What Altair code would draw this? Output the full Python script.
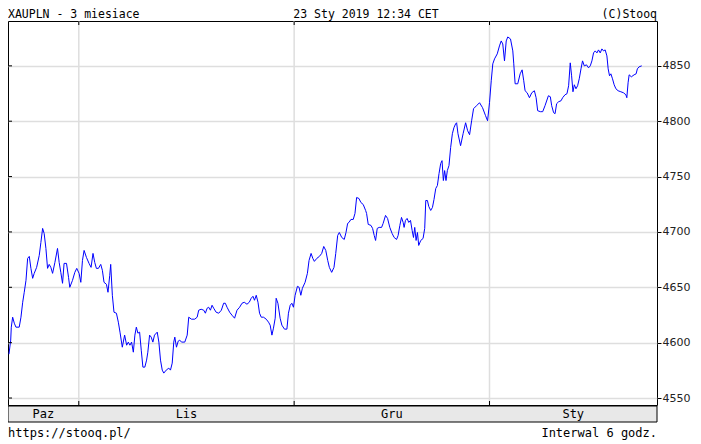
import altair as alt
import pandas as pd

# t = trading days since 23 Oct 2018 (6-hour interval data), price = XAU/PLN
oct_pts = [(0.10,4589.6),(0.28,4602.3),(0.34,4614.0),(0.48,4623.0),(0.65,4617.6),(0.82,4614.0),(1.16,4614.0),(1.34,4623.0),(1.52,4636.5),(1.68,4645.5),(1.86,4656.3),(2.03,4676.1),(2.20,4677.9),(2.37,4667.1),(2.55,4658.1),(2.71,4662.6),(2.96,4668.0),(3.23,4678.8),(3.40,4690.5),(3.58,4703.2),(3.74,4698.6),(3.92,4685.1),(4.09,4667.1),(4.26,4670.7),(4.43,4668.0),(4.61,4662.6),(4.85,4672.5),(5.12,4685.1),(5.29,4672.5),(5.46,4663.5),(5.64,4653.6),(5.80,4671.6),(6.05,4671.6),(6.26,4659.0),(6.39,4650.0),(6.67,4656.3),(6.91,4663.5),(7.11,4667.1)]

nov_pts = [(7.35,4662.6),(7.53,4654.5),(7.70,4674.3),(7.87,4683.3),(8.11,4677.0),(8.38,4671.6),(8.59,4668.0),(8.79,4680.6),(8.97,4672.5),(9.14,4667.1),(9.35,4667.1),(9.59,4670.7),(9.76,4665.3),(9.93,4654.5),(10.18,4652.7),(10.34,4645.5),(10.52,4660.8),(10.62,4670.7),(10.79,4642.8),(10.96,4627.5),(11.21,4626.6),(11.41,4618.5),(11.58,4609.5),(11.82,4595.9),(12.06,4606.8),(12.27,4597.7),(12.44,4600.5),(12.61,4597.7),(12.78,4600.5),(12.96,4591.4),(13.12,4606.8),(13.27,4614.0),(13.43,4608.6),(13.61,4609.5),(13.78,4593.2),(13.95,4577.9),(14.15,4577.9),(14.33,4584.2),(14.46,4591.4),(14.64,4606.8),(14.81,4605.0),(14.98,4600.5),(15.15,4606.8),(15.43,4609.5),(15.60,4600.5),(15.77,4584.2),(15.95,4575.2),(16.11,4572.5),(16.36,4575.2),(16.63,4577.0),(16.80,4575.2),(16.98,4581.5),(17.14,4600.5),(17.25,4605.0),(17.42,4595.9),(17.60,4601.4),(17.76,4602.3),(17.94,4600.5),(18.28,4600.5),(18.53,4606.8),(18.69,4623.0),(18.97,4621.2),(19.31,4621.2),(19.56,4623.0),(19.72,4629.3),(19.97,4630.2),(20.24,4629.3),(20.41,4626.6),(20.59,4631.1),(20.75,4632.0),(20.93,4629.3),(21.10,4633.8),(21.27,4631.1),(21.52,4627.5),(21.79,4626.6),(22.06,4629.3),(22.30,4635.6),(22.47,4635.6),(22.65,4632.0),(22.92,4627.5),(23.16,4624.8),(23.43,4622.1),(23.68,4629.3),(23.95,4632.0),(24.20,4635.6),(24.43,4636.5),(24.71,4634.7),(24.95,4636.5),(25.15,4640.1),(25.33,4641.9),(25.49,4638.3),(25.67,4642.8),(25.85,4636.5),(26.01,4626.6),(26.19,4623.0),(26.42,4623.0),(26.70,4621.2),(26.94,4618.5),(27.11,4615.8),(27.29,4606.8),(27.45,4613.1),(27.63,4622.1),(27.73,4640.1),(27.91,4635.6),(28.14,4622.1),(28.32,4615.8),(28.59,4612.2),(28.84,4612.2),(29.00,4626.6),(29.18,4633.8),(29.35,4635.6),(29.52,4632.0)]

dec_pts = [(29.69,4642.8),(29.93,4650.9),(30.10,4650.0),(30.28,4642.8),(30.44,4649.1),(30.72,4654.5),(30.96,4662.6),(31.13,4674.3),(31.34,4680.6),(31.52,4676.1),(31.68,4673.4),(31.93,4676.1),(32.20,4677.9),(32.44,4680.6),(32.65,4686.9),(32.86,4683.3),(33.06,4674.3),(33.23,4668.0),(33.47,4663.5),(33.71,4668.0),(33.89,4680.6),(34.09,4696.8),(34.26,4699.5),(34.51,4695.0),(34.77,4693.2),(34.95,4699.5),(35.12,4707.7),(35.26,4708.6),(35.46,4711.3),(35.70,4711.3),(35.88,4716.7),(36.05,4731.1),(36.29,4730.2),(36.49,4726.6),(36.73,4724.8),(36.98,4719.4),(37.08,4716.7),(37.25,4706.8),(37.53,4705.9),(37.70,4703.2),(37.87,4696.8),(38.01,4692.3),(38.18,4703.2),(38.38,4704.1),(38.63,4704.1),(38.79,4707.7),(39.04,4714.9),(39.25,4712.2),(39.48,4704.1),(39.72,4698.6),(39.93,4695.0),(40.18,4693.2),(40.34,4696.8),(40.52,4705.9),(40.69,4713.1),(40.86,4708.6),(40.96,4704.1),(41.10,4710.4),(41.27,4712.2),(41.44,4708.6),(41.62,4710.4),(41.79,4701.4),(41.93,4695.0),(42.06,4704.1),(42.20,4692.3),(42.34,4699.5),(42.47,4687.8),(42.68,4692.3),(42.92,4694.1),(43.09,4703.2),(43.20,4728.4),(43.37,4728.4),(43.51,4723.0),(43.71,4719.4),(43.89,4722.1),(44.05,4729.3),(44.23,4739.2),(44.40,4741.9),(44.57,4752.7),(44.74,4761.7),(44.88,4764.4),(45.02,4746.4),(45.15,4755.4),(45.29,4746.4),(45.43,4755.4),(45.60,4759.9),(45.77,4776.1),(45.95,4788.7),(46.11,4794.1),(46.29,4797.7),(46.39,4798.6),(46.53,4788.7),(46.80,4777.9),(47.06,4788.7),(47.32,4798.6),(47.53,4791.4),(47.73,4787.8),(47.94,4800.4),(48.14,4811.3),(48.45,4814.0),(48.76,4816.7),(49.07,4812.2),(49.38,4805.0),(49.59,4800.4),(49.79,4816.7)]

jan_pts = [(49.97,4836.5),(50.13,4851.8),(50.31,4856.3),(50.59,4860.8),(50.82,4868.0),(51.00,4872.5),(51.16,4869.8),(51.34,4854.5),(51.52,4872.5),(51.68,4876.1),(51.96,4874.3),(52.20,4863.5),(52.30,4851.8),(52.44,4833.8),(52.71,4833.8),(52.96,4842.8),(53.16,4846.4),(53.33,4836.5),(53.47,4827.5),(53.68,4825.7),(53.92,4821.2),(54.16,4825.7),(54.43,4827.5),(54.61,4821.2),(54.77,4809.5),(55.05,4808.6),(55.29,4808.6),(55.53,4814.0),(55.88,4823.0),(56.08,4822.1),(56.22,4814.0),(56.42,4807.7),(56.57,4806.8),(56.73,4815.8),(56.94,4817.6),(57.19,4818.5),(57.35,4821.2),(57.60,4823.9),(57.80,4824.8),(57.97,4832.0),(58.14,4852.7),(58.28,4841.0),(58.42,4826.6),(58.56,4832.9),(58.73,4829.3),(58.90,4832.0),(59.07,4838.3),(59.25,4847.3),(59.41,4854.5),(59.59,4850.0),(59.82,4850.9),(60.03,4848.2),(60.21,4850.0),(60.38,4854.5),(60.55,4861.7),(60.72,4863.5),(60.90,4861.7),(61.06,4864.4),(61.24,4861.7),(61.41,4865.3),(61.58,4863.5),(61.75,4864.4),(61.93,4859.0),(62.06,4847.3),(62.20,4841.0),(62.34,4842.8),(62.51,4838.3),(62.68,4832.9),(62.86,4829.3),(63.09,4827.5),(63.37,4826.6),(63.64,4825.7),(63.89,4823.9),(63.99,4821.2),(64.12,4834.7),(64.23,4841.9),(64.46,4840.1),(64.74,4841.9),(64.95,4842.8),(65.08,4847.3),(65.26,4849.1),(65.53,4850.0)]

month_starts = [7.32, 29.59, 49.79]
month_names = ["Paz", "Lis", "Gru", "Sty"]
t_range = [0.0, 67.11]
price_range = [4543.7, 4890.5]
y_ticks = [4550, 4600, 4650, 4700, 4750, 4800, 4850]

title_left = "XAUPLN - 3 miesiace"
title_mid = "23 Sty 2019 12:34 CET"
title_right = "(C)Stooq"
foot_left = "https://stooq.pl/"
foot_right = "Interwal 6 godz."

W, H = 649, 384
GRID = "#dedede"
MONO = "DejaVu Sans Mono"

df = pd.DataFrame(oct_pts + nov_pts + dec_pts + jan_pts, columns=["t", "price"])
bounds = [t_range[0]] + month_starts + [t_range[1]]
months_df = pd.DataFrame({
    "name": month_names,
    "center": [(bounds[i] + bounds[i + 1]) / 2 for i in range(len(month_names))],
})
starts_df = pd.DataFrame({"t": month_starts})
yt_df = pd.DataFrame({"v": y_ticks})
one = pd.DataFrame({"a": [0]})

xs = alt.Scale(domain=t_range, nice=False, zero=False)
ys = alt.Scale(domain=price_range, nice=False, zero=False)

vgrid = alt.Chart(starts_df).mark_rule(color=GRID, strokeWidth=1.5).encode(
    x=alt.X("t:Q", scale=xs, axis=None)
)

line = alt.Chart(df).mark_line(color="#0000ff", strokeWidth=1, clip=True).encode(
    x=alt.X("t:Q", scale=xs, axis=None),
    y=alt.Y("price:Q", scale=ys, axis=alt.Axis(
        orient="right", values=y_ticks, grid=True, gridColor=GRID, gridWidth=1.5,
        tickColor="#000", tickSize=4, labelFont="DejaVu Sans", labelFontSize=11,
        labelColor="#222", domain=False, labelPadding=1, title=None, format="d")),
)

top_ticks = alt.Chart(starts_df).mark_rule(color="#000", strokeWidth=1).encode(
    x=alt.X("t:Q", scale=xs), y=alt.value(0), y2=alt.value(4)
)
bot_ticks = alt.Chart(starts_df).mark_rule(color="#000", strokeWidth=1).encode(
    x=alt.X("t:Q", scale=xs), y=alt.value(H - 4), y2=alt.value(H)
)
left_ticks = alt.Chart(yt_df).mark_rule(color="#000", strokeWidth=1).encode(
    y=alt.Y("v:Q", scale=ys), x=alt.value(0), x2=alt.value(4)
)

band = alt.Chart(one).mark_rect(fill="#e8e8e8", stroke="#000", strokeWidth=1).encode(
    x=alt.value(0), x2=alt.value(W), y=alt.value(H + 1), y2=alt.value(H + 17)
)
month_text = alt.Chart(months_df).mark_text(
    font=MONO, fontSize=12, color="#000", baseline="middle", align="center"
).encode(x=alt.X("center:Q", scale=xs), y=alt.value(H + 9), text="name:N")

def label(txt, xpos, ypos, align, size=11.5):
    return alt.Chart(one).mark_text(
        text=txt, font=MONO, fontSize=size, color="#000", align=align, baseline="alphabetic"
    ).encode(x=alt.value(xpos), y=alt.value(ypos))

texts = (label(title_left, 0, -3, "left") + label(title_mid, 358, -3, "center")
         + label(title_right, W, -3, "right") + label(foot_left, 0, 416, "left", 12)
         + label(foot_right, W, 416, "right", 12))

chart = alt.layer(vgrid, line, top_ticks, bot_ticks, left_ticks, band, month_text, texts).properties(
    width=W, height=H,
    padding={"left": 0, "top": 13, "right": 36, "bottom": 36},
    autosize=alt.AutoSizeParams(type="none"),
    background="#ffffff",
).configure_view(stroke="#000", strokeWidth=1)

chart.save("out.html", embed_options={"renderer": "svg", "actions": False})
